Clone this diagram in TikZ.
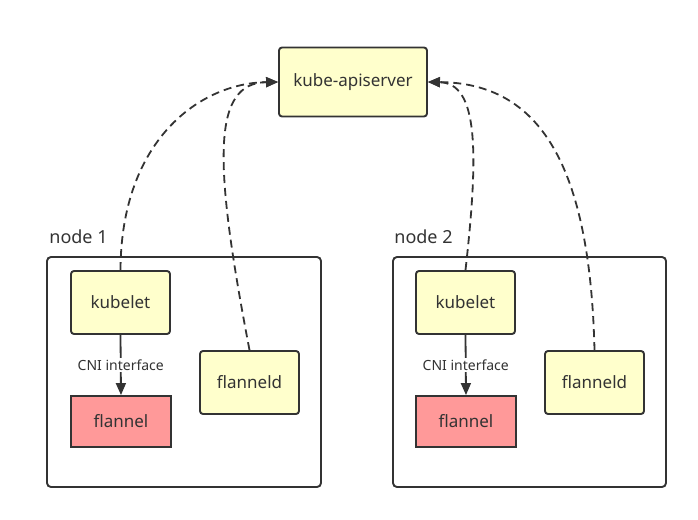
\documentclass[tikz,border=0pt]{standalone}
\usepackage{fontspec}
\setmainfont{Noto Sans}
\usetikzlibrary{arrows.meta}
\definecolor{ink}{HTML}{333333}
\definecolor{paleyellow}{HTML}{FFFFCC}
\definecolor{pink}{HTML}{FF9999}
\tikzset{
  yellowbox/.style={draw=ink, line width=1.9pt, fill=paleyellow, rounded corners=3pt, inner sep=0pt, font=\fontsize{17}{20}\selectfont, text=ink},
  redbox/.style={draw=ink, line width=1.9pt, fill=pink, inner sep=0pt, font=\fontsize{17}{20}\selectfont, text=ink},
  hostbox/.style={draw=ink, line width=1.9pt, rounded corners=4pt, inner sep=0pt},
  hostlabel/.style={font=\fontsize{18}{21}\selectfont, text=ink, inner sep=0pt},
  dashlink/.style={draw=ink, line width=1.8pt, dash pattern=on 8pt off 5pt, -{Triangle[length=12pt,width=10pt]}},
  solidlink/.style={draw=ink, line width=1.8pt, -{Triangle[length=12pt,width=10pt]}},
}
\begin{document}
\begin{tikzpicture}[x=1pt,y=-1pt]
\useasboundingbox (0,0) rectangle (698,519);
% hosts
\node[hostbox, minimum width=274pt, minimum height=230pt] (host1) at (184,372) {};
\node[hostbox, minimum width=273pt, minimum height=230pt] (host2) at (529.5,372) {};
\node[hostlabel] (host1label) at (78.5,237) {node 1};
\node[hostlabel] (host2label) at (423.5,237) {node 2};
% api server
\node[yellowbox, minimum width=148pt, minimum height=69pt] (api) at (353,82) {kube-apiserver};
% node 1
\node[yellowbox, minimum width=99pt, minimum height=63pt] (kubelet1) at (120.5,302.5) {kubelet};
\node[redbox, minimum width=100pt, minimum height=51pt] (flannel1) at (121,421.5) {flannel};
\node[yellowbox, minimum width=99pt, minimum height=63pt] (flanneld1) at (249.5,382.5) {flanneld};
% node 2
\node[yellowbox, minimum width=99pt, minimum height=63pt] (kubelet2) at (465.5,302.5) {kubelet};
\node[redbox, minimum width=100pt, minimum height=51pt] (flannel2) at (466,421.5) {flannel};
\node[yellowbox, minimum width=99pt, minimum height=63pt] (flanneld2) at (594.5,382.5) {flanneld};
% CNI links
\draw[solidlink] (kubelet1.south) -- node[fill=white, inner sep=1.5pt, font=\fontsize{14}{16}\selectfont, text=ink] (cni1) {CNI interface} (flannel1.north);
\draw[solidlink] (kubelet2.south) -- node[fill=white, inner sep=1.5pt, font=\fontsize{14}{16}\selectfont, text=ink] (cni2) {CNI interface} (flannel2.north);
% dashed links to api server
\draw[dashlink] (kubelet1.north) .. controls (121,140) and (200,83) .. (api.west);
\draw[dashlink] (flanneld1.north) .. controls (213,160) and (212,83) .. (api.west);
\draw[dashlink] (kubelet2.north) .. controls (479,150) and (478,83) .. (api.east);
\draw[dashlink] (flanneld2.north) .. controls (590,165) and (540,83) .. (api.east);
\end{tikzpicture}
\end{document}
